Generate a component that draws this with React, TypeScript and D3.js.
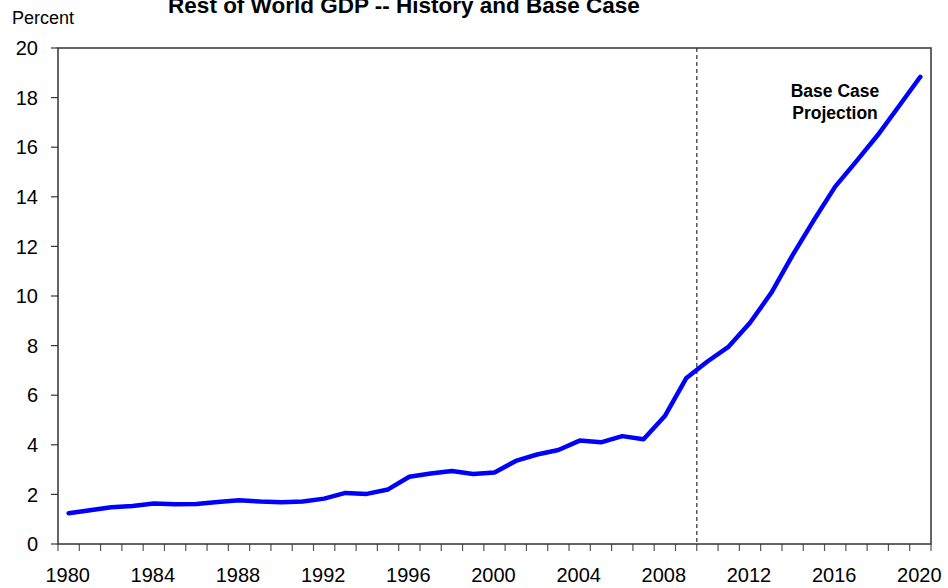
import React from "react";
import * as d3 from "d3";

const years: number[] = [
  1980, 1981, 1982, 1983, 1984, 1985, 1986, 1987, 1988, 1989,
  1990, 1991, 1992, 1993, 1994, 1995, 1996, 1997, 1998, 1999,
  2000, 2001, 2002, 2003, 2004, 2005, 2006, 2007, 2008, 2009,
  2010, 2011, 2012, 2013, 2014, 2015, 2016, 2017, 2018, 2019, 2020,
];

const gdpShare: number[] = [
  1.24, 1.36, 1.48, 1.53, 1.63, 1.6, 1.61, 1.69, 1.76, 1.71,
  1.68, 1.71, 1.83, 2.06, 2.02, 2.2, 2.71, 2.84, 2.94, 2.82,
  2.88, 3.35, 3.61, 3.79, 4.17, 4.1, 4.35, 4.22, 5.16, 6.68,
  7.36, 7.96, 8.92, 10.13, 11.65, 13.06, 14.41, 15.44, 16.49, 17.66, 18.84,
];

const xTickLabels: string[] = [
  "1980", "1984", "1988", "1992", "1996", "2000", "2004", "2008", "2012", "2016", "2020",
];
const yTicks: number[] = [0, 2, 4, 6, 8, 10, 12, 14, 16, 18, 20];

const projectionStartYear = 2010;

const W = 948;
const H = 588;
const FONT = "'Liberation Sans', Arial, Helvetica, sans-serif";

export default function App() {
  const left = 58;
  const right = 931;
  const top = 48;
  const bottom = 544;

  const x = d3.scaleBand<number>().domain(years).range([left, right]).padding(0);
  const y = d3.scaleLinear().domain([0, 20]).range([bottom, top]);
  const bw = x.bandwidth();

  const pts: [number, number][] = years.map((yr, i) => [x(yr)! + bw / 2, y(gdpShare[i])]);
  const lineGen = d3.line<[number, number]>().x((d) => d[0]).y((d) => d[1]);
  const path = lineGen(pts) || "";

  const boundaries: number[] = years.map((yr) => x(yr)!).concat([right]);
  const dashX = x(projectionStartYear)!;

  return (
    <svg
      width={W}
      height={H}
      style={{ position: "absolute", left: 0, top: 0, background: "#fff" }}
      fontFamily={FONT}
    >
      <rect x={0} y={0} width={W} height={H} fill="#fff" />
      {/* title */}
      <text x={404} y={13} textAnchor="middle" fontSize={22.5} fontWeight="bold" fill="#000">
        Rest of World GDP -- History and Base Case
      </text>
      <text x={12} y={24} fontSize={18} fill="#000">
        Percent
      </text>

      {/* y ticks */}
      {yTicks.map((t) => (
        <g key={"y" + t}>
          <line x1={left - 7} x2={left} y1={y(t)} y2={y(t)} stroke="#333" strokeWidth={1.2} />
          <text x={38} y={y(t)} dy="0.36em" textAnchor="end" fontSize={20} fill="#000">
            {t}
          </text>
        </g>
      ))}

      {/* x ticks */}
      {boundaries.map((bx, i) => (
        <line key={"xt" + i} x1={bx} x2={bx} y1={bottom} y2={bottom + 7} stroke="#555" strokeWidth={1.2} />
      ))}
      {xTickLabels.map((lab) => (
        <text key={"xl" + lab} x={x(+lab)! + bw / 2 - 1} y={582} textAnchor="middle" fontSize={20} fill="#000">
          {lab}
        </text>
      ))}

      {/* dashed divider */}
      <line x1={dashX} x2={dashX} y1={top} y2={bottom} stroke="#555" strokeWidth={1.5} strokeDasharray="4,3" />

      {/* frame */}
      <rect x={left} y={top} width={right - left} height={bottom - top} fill="none" stroke="#333" strokeWidth={1.5} />

      {/* series */}
      <path d={path} fill="none" stroke="#0000ff" strokeWidth={4.5} strokeLinejoin="round" strokeLinecap="round" />

      {/* annotation */}
      <text x={835} y={96.5} textAnchor="middle" fontSize={17.5} fontWeight="bold" fill="#000">
        Base Case
      </text>
      <text x={835} y={119} textAnchor="middle" fontSize={17.5} fontWeight="bold" fill="#000">
        Projection
      </text>
    </svg>
  );
}
